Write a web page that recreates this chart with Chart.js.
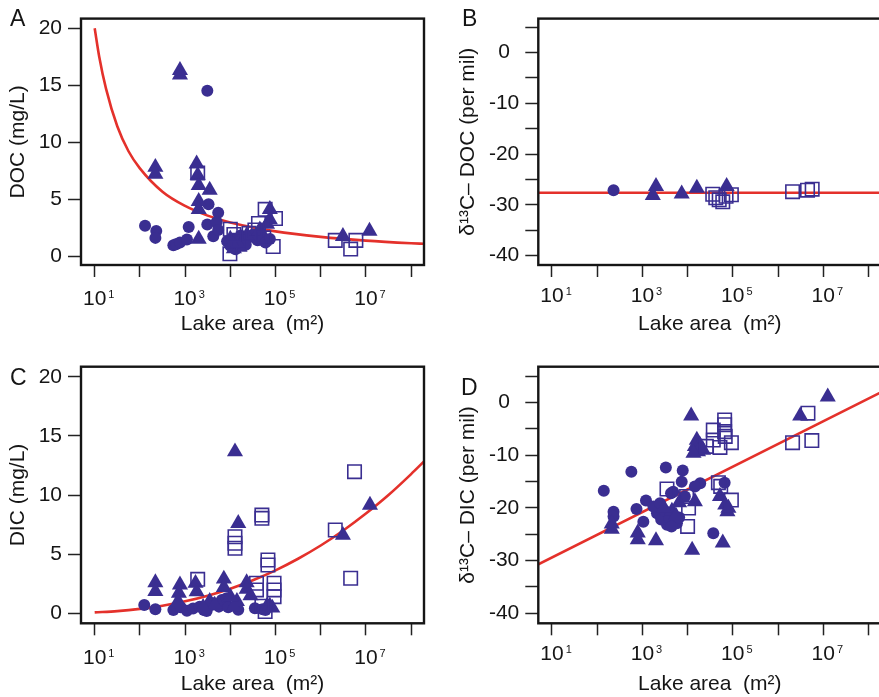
<!DOCTYPE html>
<html>
<head>
<meta charset="utf-8">
<title>Lake area vs. carbon</title>
<script src="https://cdn.jsdelivr.net/npm/chart.js@4.4.1/dist/chart.umd.min.js"></script>
<style>
  html, body { margin: 0; padding: 0; background: #fff; overflow: hidden; width: 879px; height: 697px; }
  canvas { position: absolute; }
</style>
</head>
<body>
<canvas id="panelA" width="440" height="348" style="left:0;top:0"></canvas>
<canvas id="panelB" width="460" height="348" style="left:440px;top:0"></canvas>
<canvas id="panelC" width="440" height="349" style="left:0;top:348px"></canvas>
<canvas id="panelD" width="460" height="349" style="left:440px;top:348px"></canvas>
<script>
// ---- data: [lake area (m²), value] ----
// A: dissolved organic carbon (mg/L)
const docCircles = [
  [130, 2.67], [230, 2.2], [220, 1.6], [550, 0.96], [630, 1.05], [770, 1.2], [1100, 1.46], [1200, 2.56],
  [3100, 14.5], [3300, 4.55], [5400, 3.8], [3100, 2.78], [5000, 3.0], [4200, 1.74], [5400, 2.3],
  [8500, 1.3], [10000, 0.9], [12000, 1.5], [14000, 1.1], [17000, 1.8], [20000, 1.3], [25000, 1.6],
  [32000, 1.9], [40000, 1.4], [50000, 1.7], [60000, 1.2], [75000, 1.5], [13000, 0.6], [22000, 1.0]
];
const docTriangles = [
  [770, 16.3], [770, 15.9], [220, 7.8], [220, 7.2], [1800, 8.1], [1900, 7.1], [2000, 6.2], [3500, 5.8],
  [2000, 4.8], [2000, 4.1], [2000, 1.5], [75000, 4.1], [75000, 3.2], [3100000, 1.74], [12000000, 2.2],
  [10000, 1.5], [12000, 0.65], [16000, 0.8], [23000, 1.8], [45000, 2.3], [65000, 2.8], [11000, 1.1]
];
const docSquares = [
  [1900, 7.3], [59000, 4.1], [100000, 3.3], [42000, 2.86], [35000, 2.3], [89000, 0.84], [9800, 0.2],
  [10000, 2.36], [2100000, 1.38], [6000000, 1.38], [4600000, 0.62], [15000, 1.4], [26000, 2.0],
  [55000, 1.6], [12000, 1.9]
];
const docFitArea  = [10, 12.6, 17.8, 31.6, 56, 100, 316, 1000, 3160, 10000, 1e5, 1e6, 1e7, 1e8, 1.93e8];
const docFitValue = [20, 17.5, 14.7, 11.4, 9.2, 7.7, 5.65, 4.4, 3.55, 2.95, 2.17, 1.69, 1.36, 1.13, 1.08];

// B: δ13C of DOC (per mil)
const docIsoCircles = [[230, -27.1]];
const docIsoTriangles = [[2000, -26.35], [1700, -28.1], [7400, -27.8], [16000, -26.7], [73000, -26.35]];
const docIsoSquares = [
  [36000, -27.9], [42000, -28.6], [50000, -29.0], [60000, -29.4], [71000, -28.3], [93000, -28.0],
  [2100000, -27.4], [4500000, -27.1], [5700000, -26.9]
];
const docIsoFitArea  = [5, 1.93e8];
const docIsoFitValue = [-27.6, -27.6];

// C: dissolved inorganic carbon (mg/L)
const dicCircles = [
  [125, 0.7], [220, 0.34], [550, 0.28], [800, 0.5], [1100, 0.22], [1500, 0.4], [2100, 0.56], [2600, 0.28],
  [3000, 0.2], [3800, 0.7], [4200, 0.85], [5600, 0.56], [6500, 1.12], [8300, 1.27], [9000, 0.5],
  [15000, 0.3], [35000, 0.42], [52000, 0.34], [60000, 0.28]
];
const dicTriangles = [
  [12700, 13.66], [15000, 7.6], [3100000, 6.6], [12300000, 9.15], [220, 2.6], [220, 1.85], [770, 2.4],
  [730, 1.7], [700, 1.0], [1700, 2.54], [1800, 1.83], [7200, 2.9], [7200, 2.2], [23000, 2.6], [23000, 2.05],
  [12000, 0.56], [14000, 1.0], [65000, 0.6], [75000, 0.6], [85000, 0.45], [3500, 1.0], [4500, 0.7],
  [2500, 0.5], [10000, 1.4], [28000, 1.5]
];
const dicSquares = [
  [5600000, 11.97], [2100000, 7.04], [4600000, 2.96], [12700, 6.47], [12700, 5.92], [12700, 5.5],
  [50000, 8.3], [50000, 8.03], [68000, 4.5], [68000, 4.08], [1900, 2.87], [93000, 2.54], [93000, 1.97],
  [93000, 1.4], [38000, 2.54], [38000, 1.97], [59000, 0.14], [50000, 0.6]
];
const dicFitArea  = [10, 31.6, 100, 316, 1000, 3160, 1e4, 3.16e4, 1e5, 3.16e5, 1e6, 3.16e6, 1e7, 3.16e7, 1e8, 1.93e8];
const dicFitValue = [0.07, 0.18, 0.37, 0.64, 1.01, 1.49, 2.08, 2.79, 3.63, 4.61, 5.73, 7.0, 8.43, 10.0, 11.77, 12.84];

// D: δ13C of DIC (per mil)
const dicIsoCircles = [
  [140, -16.75], [230, -20.7], [230, -21.6], [570, -13.1], [3300, -12.3], [7800, -12.9], [740, -20.2],
  [1200, -18.6], [1050, -22.6], [37000, -24.8], [66000, -15.2], [19000, -15.3], [14500, -15.9],
  [7400, -15.0], [4800, -16.9], [4300, -17.2], [2100, -21.0], [2950, -21.6], [3500, -23.2], [5800, -22.9],
  [1750, -19.7], [2450, -19.1], [8700, -17.8], [2600, -22.2], [3200, -20.6], [4000, -22.0], [4400, -23.5],
  [6500, -21.8]
];
const dicIsoTriangles = [
  [12000, -2.5], [16000, -7.1], [14500, -8.3], [18500, -8.0], [17000, -9.3], [22000, -9.0], [13500, -9.6],
  [3100000, -2.5], [12600000, 1.1], [210, -23.0], [210, -24.0], [790, -24.7], [790, -26.0], [2000, -26.2],
  [12600, -28.0], [60000, -26.6], [52000, -17.8], [68000, -19.4], [76000, -20.7], [80000, -20.0],
  [14500, -18.8], [4500, -20.6], [5500, -21.5], [3000, -20.0], [6500, -19.0]
];
const dicIsoSquares = [
  [3500, -16.4], [10000, -23.5], [10500, -20.0], [9500, -17.8], [37000, -5.2], [37000, -7.1], [66000, -3.3],
  [66000, -4.2], [66000, -5.5], [68000, -6.4], [93000, -7.6], [52000, -8.5], [26000, -8.3], [48000, -15.2],
  [54000, -15.9], [93000, -18.5], [2100000, -7.6], [4600000, -2.0], [5600000, -7.2]
];
const dicIsoFitArea  = [5, 1.93e8];
const dicIsoFitValue = [-30.7, 2.0];

// axis ticks
const areaDecades = [1, 2, 3, 4, 5, 6, 7, 8];
const areaLabelDecades = [1, 3, 5, 7];
const concTicks = [0, 5, 10, 15, 20];
const isoTicks = [5, 0, -5, -10, -15, -20, -25, -30, -35, -40];

// ---- styling ----
const FONT = '"Liberation Sans", Arial, Helvetica, sans-serif';
const INK = '#151515';
const MARK = '#3a2e91';
const FIT = '#e4312b';
const AREA_MIN = 4.98, AREA_MAX = 1.928e8;

Chart.defaults.font.family = FONT;
Chart.defaults.color = INK;

const toXY = pairs => pairs.map(([x, y]) => ({ x, y }));
const zip = (xs, ys) => xs.map((x, i) => ({ x, y: ys[i] }));

function markerSets(circles, triangles, squares) {
  return [
    { data: toXY(squares), pointStyle: 'rect', pointRadius: 9.5, backgroundColor: 'rgba(0,0,0,0)',
      borderColor: MARK, borderWidth: 1.6, order: 1 },
    { data: toXY(triangles), pointStyle: 'triangle', pointRadius: 9.3, backgroundColor: MARK,
      borderColor: MARK, borderWidth: 0, order: 2 },
    { data: toXY(circles), pointStyle: 'circle', pointRadius: 6, backgroundColor: MARK,
      borderColor: MARK, borderWidth: 0, order: 3 }
  ];
}

function fitSet(xs, ys) {
  return { data: zip(xs, ys), showLine: true, pointRadius: 0, borderColor: FIT, borderWidth: 2.6,
           fill: false, cubicInterpolationMode: 'monotone', order: 10 };
}

// frame box, decade labels (10 with raised exponent) and panel letter
const panelDecor = {
  id: 'panelDecor',
  afterDraw(chart, args, opts) {
    const { ctx, chartArea: a, scales: { x } } = chart;
    ctx.save();
    ctx.strokeStyle = INK;
    ctx.lineWidth = 2.4;
    ctx.strokeRect(a.left, a.top, a.right - a.left, a.bottom - a.top);
    ctx.fillStyle = INK;
    ctx.textBaseline = 'alphabetic';
    const base = a.bottom + opts.labelGap;
    for (const e of areaLabelDecades) {
      const px = x.getPixelForValue(Math.pow(10, e));
      ctx.font = '21px ' + FONT;
      ctx.textAlign = 'center';
      const w = ctx.measureText('10').width;
      ctx.fillText('10', px, base);
      ctx.font = '11px ' + FONT;
      ctx.textAlign = 'left';
      ctx.fillText(String(e), px + w / 2 + 2, base - 7);
    }
    ctx.font = '23px ' + FONT;
    ctx.textAlign = 'left';
    ctx.fillText(opts.letter, opts.letterX, opts.letterY);
    ctx.restore();
  }
};

function makePanel(id, cfg) {
  const canvas = document.getElementById(id);
  return new Chart(canvas, {
    type: 'scatter',
    data: { datasets: [...markerSets(cfg.circles, cfg.triangles, cfg.squares), fitSet(cfg.fitX, cfg.fitY)] },
    plugins: [panelDecor],
    options: {
      responsive: false,
      animation: false,
      events: [],
      layout: { padding: { left: 0, top: cfg.top, right: cfg.right, bottom: 0 } },
      plugins: {
        legend: { display: false },
        tooltip: { enabled: false },
        panelDecor: { letter: cfg.letter, letterX: cfg.letterX, letterY: cfg.letterY, labelGap: cfg.labelGap }
      },
      scales: {
        x: {
          type: 'logarithmic',
          min: AREA_MIN, max: AREA_MAX,
          afterBuildTicks: s => { s.ticks = areaDecades.map(e => ({ value: Math.pow(10, e) })); },
          afterFit: s => { s.height = cfg.xHeight; },
          grid: { drawOnChartArea: false, drawTicks: true, tickLength: 12, tickWidth: 1.5, tickColor: '#222' },
          border: { display: false },
          ticks: { display: false, autoSkip: false, callback: v => '10^' + Math.round(Math.log10(v)) },
          title: { display: true, text: 'Lake area  (m²)', color: INK, font: { size: 21 },
                   padding: { top: 0, bottom: cfg.xTitlePad } }
        },
        y: {
          type: 'linear',
          bounds: 'data',
          min: cfg.yMin, max: cfg.yMax,
          afterBuildTicks: s => { s.ticks = cfg.yTicks.map(v => ({ value: v })); },
          afterFit: s => { s.width = cfg.yWidth; },
          grid: { drawOnChartArea: false, drawTicks: true, tickLength: 13, tickWidth: 1.5, tickColor: '#222' },
          border: { display: false },
          ticks: { autoSkip: false, padding: 6, crossAlign: cfg.crossAlign, color: INK, font: { size: 21 },
                   callback: v => (v % cfg.labelStep === 0 ? String(v) : '') },
          title: { display: true, text: cfg.yTitle, color: INK, font: { size: 21 },
                   padding: { top: cfg.yTitlePad, bottom: 0 } }
        }
      }
    }
  });
}

makePanel('panelA', {
  circles: docCircles, triangles: docTriangles, squares: docSquares, fitX: docFitArea, fitY: docFitValue,
  top: 8, right: 16, xHeight: 83, yWidth: 81, yMin: -0.78, yMax: 20.84, yTicks: concTicks, labelStep: 5,
  crossAlign: 'near', yTitle: 'DOC (mg/L)', yTitlePad: 6, xTitlePad: 11, labelGap: 40,
  letter: 'A', letterX: 10, letterY: 26
});
makePanel('panelB', {
  circles: docIsoCircles, triangles: docIsoTriangles, squares: docIsoSquares, fitX: docIsoFitArea, fitY: docIsoFitValue,
  top: 9, right: 18.7, xHeight: 83, yWidth: 98.3, yMin: -41.84, yMax: 6.7, yTicks: isoTicks, labelStep: 10,
  crossAlign: 'center', yTitle: 'δ¹³C– DOC (per mil)', yTitlePad: 16, xTitlePad: 11, labelGap: 36.7,
  letter: 'B', letterX: 22, letterY: 26
});
makePanel('panelC', {
  circles: dicCircles, triangles: dicTriangles, squares: dicSquares, fitX: dicFitArea, fitY: dicFitValue,
  top: 18.7, right: 16, xHeight: 73.7, yWidth: 81, yMin: -0.85, yMax: 20.85, yTicks: concTicks, labelStep: 5,
  crossAlign: 'near', yTitle: 'DIC (mg/L)', yTitlePad: 6, xTitlePad: 0, labelGap: 41,
  letter: 'C', letterX: 10, letterY: 37
});
makePanel('panelD', {
  circles: dicIsoCircles, triangles: dicIsoTriangles, squares: dicIsoSquares, fitX: dicIsoFitArea, fitY: dicIsoFitValue,
  top: 18.7, right: 18.7, xHeight: 73.7, yWidth: 98.3, yMin: -41.9, yMax: 6.83, yTicks: isoTicks, labelStep: 10,
  crossAlign: 'center', yTitle: 'δ¹³C– DIC (per mil)', yTitlePad: 16, xTitlePad: 0, labelGap: 36.7,
  letter: 'D', letterX: 21, letterY: 47
});
</script>
</body>
</html>
